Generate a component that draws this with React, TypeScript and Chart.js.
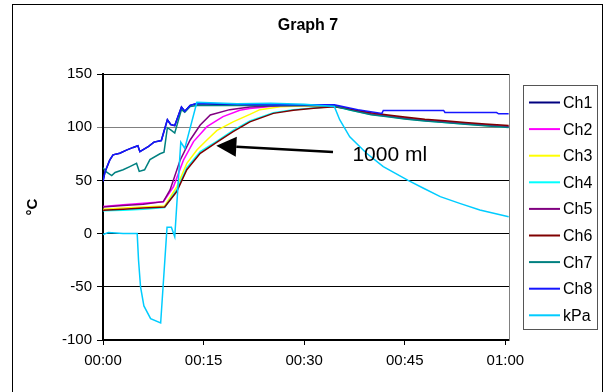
import React, { useEffect, useRef } from "react";
import { Chart, registerables } from "chart.js";

Chart.register(...registerables);

// ---- data (time in minutes, values) ----
const xTickValues = [0, 15, 30, 45, 60];
const xTickLabels = ["00:00", "00:15", "00:30", "00:45", "01:00"];
const yTickValues = [-100, -50, 0, 50, 100, 150];

const seriesNames = ["Ch1", "Ch2", "Ch3", "Ch4", "Ch5", "Ch6", "Ch7", "Ch8", "kPa"];
const seriesColors = ["#000080", "#FF00FF", "#FFFF00", "#00FFFF", "#800080", "#800000", "#008080", "#1515FF", "#00CCFF"];

const ch1T = [0, 0.3, 1.0, 1.5, 2.5, 3.5, 4.5, 5.2, 5.5, 6.8, 7.6, 8.7, 9.6, 10.1, 10.7, 11.7, 12.2, 13.0, 14.0, 20, 25, 30, 34.5, 37, 40, 42.5, 45, 48, 51, 54, 57, 60.5];
const ch1V = [49, 58, 69, 74, 75.5, 78.5, 81, 82.5, 77, 82, 86, 87.5, 107, 102.5, 101.5, 119, 115, 120.5, 122, 121, 121, 121, 120.5, 116.5, 112.5, 110.5, 108.5, 106.5, 105, 103.5, 102, 100.5];

const ch2T = [0, 3, 6, 9.0, 10.5, 12, 13.5, 15.5, 17.9, 20.4, 21.9, 25, 30, 34.5, 37, 40, 42.5, 45, 48, 51, 54, 57, 60.5];
const ch2V = [25.5, 27, 28.5, 30, 44, 69, 86.5, 100.5, 110, 116, 117.5, 119.5, 120.5, 120.5, 116.8, 112.8, 110.8, 108.8, 106.8, 105.3, 103.8, 102.3, 100.8];

const ch3T = [0, 3, 6, 9.2, 11, 12.5, 14, 15.5, 17, 19.4, 21.9, 23.4, 26.4, 30, 34.5, 37, 40, 42.5, 45, 48, 51, 54, 57, 60.5];
const ch3V = [23, 24, 25, 26, 44, 66, 78.5, 88, 97, 105, 112, 116.5, 119.3, 120, 120, 116.2, 112.2, 110.2, 108.2, 106.2, 104.7, 103.2, 101.7, 100.2];

const ch4T = [0, 3, 6, 9.2, 11, 12.5, 14.5, 17, 19.4, 21.9, 25.4, 28.4, 31.4, 34.5, 37, 40, 42.5, 45, 48, 51, 54, 57, 60.5];
const ch4V = [21.5, 22, 23, 24.5, 41, 62, 77, 87, 97, 106, 113.5, 116.5, 118, 119.5, 116, 112, 110, 108, 106, 104.5, 103, 101.5, 100];

const ch5T = [0, 3, 6, 9.0, 10.0, 11.5, 13, 14.5, 16, 18.9, 21.9, 25, 30, 34.5, 37, 40, 42.5, 45, 48, 51, 54, 57, 60.5];
const ch5V = [25, 26.5, 27.5, 30, 41, 69, 88, 102, 111.5, 116.5, 119, 120, 120.5, 120.5, 116.5, 112.5, 110.5, 108.5, 106.5, 105, 103.5, 102, 100.5];

const ch6T = [0, 3, 6, 9.2, 11, 12.5, 14.5, 17, 19.4, 21.9, 25.4, 28.4, 31.4, 34.5, 37, 40, 42.5, 45, 48, 51, 54, 57, 60.5];
const ch6V = [22, 23, 24, 25, 39.5, 60, 75.5, 86, 95.8, 105, 113, 116, 117.7, 119.3, 116.8, 113.5, 111.5, 109.5, 107.5, 106, 104.5, 103, 101.5];

const ch7T = [0, 0.5, 1.3, 1.8, 3.0, 4.0, 5.0, 5.4, 6.2, 7.0, 8.5, 9.1, 9.6, 10.2, 10.7, 11.7, 12.2, 13.0, 14.0, 20, 25, 30, 34.5, 37, 40, 42.5, 45, 48, 51, 54, 57, 60.5];
const ch7V = [62, 58, 54.5, 57.5, 60, 63, 66, 58.5, 60, 69.5, 75, 76.5, 99.5, 97, 94.5, 116.5, 114, 119.5, 120.5, 120.5, 120.5, 120.5, 120, 115.8, 111.8, 109.8, 107.8, 105.8, 104.3, 102.8, 101.3, 99.8];

const ch8T = [0, 0.3, 1.0, 1.5, 2.5, 3.5, 4.5, 5.2, 5.5, 6.8, 7.6, 8.7, 9.6, 10.1, 10.7, 11.7, 12.2, 13.0, 14.0, 20, 25, 30, 34.5, 38, 41.6, 41.8, 50.8, 51.0, 58.7, 59, 60.5];
const ch8V = [49, 58, 69, 74, 75.5, 78.5, 81, 82.5, 77, 82, 86, 87.5, 107, 102.5, 101.5, 119, 115, 120.5, 122.5, 121.5, 121, 121, 121, 116.5, 113, 115.8, 115.8, 113.8, 113.8, 112.6, 112.6];

const kpaT = [0, 0.8, 3, 5.1, 5.3, 5.6, 6.1, 7.1, 8.6, 9.55, 10.2, 10.7, 11.6, 12.2, 14.0, 16, 20, 25, 30, 34.5, 35.3, 36.8, 39.3, 41.8, 45.5, 47.8, 50.3, 53.2, 56.2, 60.5];
const kpaV = [-1, 1, 0, 0, -25, -50, -68, -80, -84, 6, 6, -3, 86, 80, 123.5, 123, 122, 122.5, 121.5, 119.5, 107, 91, 75.5, 63, 50, 42.6, 34.7, 28.4, 22.2, 15.9];

const seriesT = [ch1T, ch2T, ch3T, ch4T, ch5T, ch6T, ch7T, ch8T, kpaT];
const seriesV = [ch1V, ch2V, ch3V, ch4V, ch5V, ch6V, ch7V, ch8V, kpaV];

// annotation (data coordinates)
const arrowFrom = [34.3, 76.7];
const arrowTo = [16.9, 82.6];
const arrowLabel = "1000 ml";
const arrowLabelAt = [37.2, 74];

const titleText = "Graph 7";
const yTitleText = "°C";

const FONT = "Arial, 'Liberation Sans', sans-serif";

const decor = {
  id: "decor",
  beforeDraw(chart: any) {
    const { ctx, width, height } = chart;
    ctx.save();
    ctx.fillStyle = "#fff";
    ctx.fillRect(0, 0, width, height);
    ctx.strokeStyle = "#000";
    ctx.lineWidth = 1;
    ctx.strokeRect(12.5, 4.5, 590, height + 10);
    ctx.restore();
  },
  afterDraw(chart: any) {
    const { ctx, chartArea } = chart;
    const xs = chart.scales.x;
    const ys = chart.scales.y;
    ctx.save();
    // right plot border
    ctx.strokeStyle = "#808080";
    ctx.lineWidth = 1;
    ctx.beginPath();
    ctx.moveTo(chartArea.right + 0.5, chartArea.top);
    ctx.lineTo(chartArea.right + 0.5, chartArea.bottom);
    ctx.stroke();

    // title
    ctx.fillStyle = "#000";
    ctx.font = `bold 16px ${FONT}`;
    ctx.textAlign = "center";
    ctx.textBaseline = "middle";
    ctx.fillText(titleText, (chartArea.left + chartArea.right) / 2 + 2, 26);

    // y title
    ctx.save();
    ctx.translate(33, (chartArea.top + chartArea.bottom) / 2);
    ctx.rotate(-Math.PI / 2);
    ctx.font = `bold 15px ${FONT}`;
    ctx.fillText(yTitleText, 0, 0);
    ctx.restore();

    // arrow
    const x1 = xs.getPixelForValue(arrowFrom[0]);
    const y1 = ys.getPixelForValue(arrowFrom[1]);
    const x2 = xs.getPixelForValue(arrowTo[0]);
    const y2 = ys.getPixelForValue(arrowTo[1]);
    const ang = Math.atan2(y2 - y1, x2 - x1);
    const headLen = 20;
    const headHalf = 10;
    const bx = x2 - headLen * Math.cos(ang);
    const by = y2 - headLen * Math.sin(ang);
    ctx.strokeStyle = "#000";
    ctx.lineWidth = 2.5;
    ctx.beginPath();
    ctx.moveTo(x1, y1);
    ctx.lineTo(bx, by);
    ctx.stroke();
    ctx.fillStyle = "#000";
    ctx.beginPath();
    ctx.moveTo(x2, y2);
    ctx.lineTo(bx + headHalf * Math.sin(ang), by - headHalf * Math.cos(ang));
    ctx.lineTo(bx - headHalf * Math.sin(ang), by + headHalf * Math.cos(ang));
    ctx.closePath();
    ctx.fill();

    ctx.font = `21px ${FONT}`;
    ctx.textAlign = "left";
    ctx.textBaseline = "middle";
    ctx.fillText(arrowLabel, xs.getPixelForValue(arrowLabelAt[0]), ys.getPixelForValue(arrowLabelAt[1]));

    // legend
    const lx = 523.5, ly = 85.5, lw = 74, lh = 244;
    ctx.strokeStyle = "#555";
    ctx.lineWidth = 1;
    ctx.strokeRect(lx, ly, lw, lh);
    ctx.font = `16px ${FONT}`;
    ctx.textAlign = "left";
    ctx.textBaseline = "middle";
    chart.data.datasets.forEach((ds: any, i: number) => {
      const y = 102.5 + i * 26.6;
      ctx.strokeStyle = ds.borderColor;
      ctx.lineWidth = 2;
      ctx.beginPath();
      ctx.moveTo(529, y);
      ctx.lineTo(560, y);
      ctx.stroke();
      ctx.fillStyle = "#000";
      ctx.fillText(ds.label, 563, y + 1);
    });
    ctx.restore();
  },
};

export default function App() {
  const ref = useRef<HTMLCanvasElement | null>(null);
  useEffect(() => {
    if (!ref.current) return;
    const datasets = seriesNames.map((name, i) => ({
      label: name,
      data: seriesT[i].map((t, j) => ({ x: t, y: seriesV[i][j] })),
      borderColor: seriesColors[i],
      backgroundColor: seriesColors[i],
      borderWidth: 1.5,
      pointRadius: 0,
      tension: 0,
      fill: false,
      order: seriesNames.length - 1 - i,
    }));
    const chart = new Chart(ref.current, {
      type: "line",
      data: { datasets },
      options: {
        animation: false,
        responsive: false,
        devicePixelRatio: 1,
        layout: { padding: { top: 74, right: 98, bottom: 0, left: 0 } },
        plugins: { legend: { display: false }, tooltip: { enabled: false }, title: { display: false } },
        scales: {
          x: {
            type: "linear",
            min: 0,
            max: 60.55,
            afterFit: (s: any) => { s.height = 52; },
            afterBuildTicks: (s: any) => { s.ticks = xTickValues.map((v) => ({ value: v })); },
            ticks: {
              autoSkip: false,
              maxRotation: 0,
              padding: 7,
              color: "#000",
              font: { family: FONT, size: 15 },
              callback: (v: any) => xTickLabels[xTickValues.indexOf(Number(v))] ?? "",
            },
            grid: { drawOnChartArea: false, drawTicks: true, tickLength: 5, color: "#000" },
            border: { display: true, color: "#000", width: 1.5 },
          },
          y: {
            type: "linear",
            min: -100,
            max: 150,
            afterFit: (s: any) => { s.width = 103; },
            afterBuildTicks: (s: any) => { s.ticks = yTickValues.map((v) => ({ value: v })); },
            ticks: {
              padding: 5,
              color: "#000",
              font: { family: FONT, size: 15 },
            },
            grid: {
              drawTicks: true,
              tickLength: 6,
              color: (c: any) => (c.tick && c.tick.value === 100 ? "#808080" : "#000"),
              lineWidth: 1,
            },
            border: { display: true, color: "#000", width: 2 },
          },
        },
      },
      plugins: [decor],
    });
    return () => chart.destroy();
  }, []);
  return (
    <div style={{ position: "fixed", left: 0, top: 0, width: 607, height: 392, background: "#fff" }}>
      <canvas ref={ref} width={607} height={392} style={{ display: "block", width: 607, height: 392 }} />
    </div>
  );
}
